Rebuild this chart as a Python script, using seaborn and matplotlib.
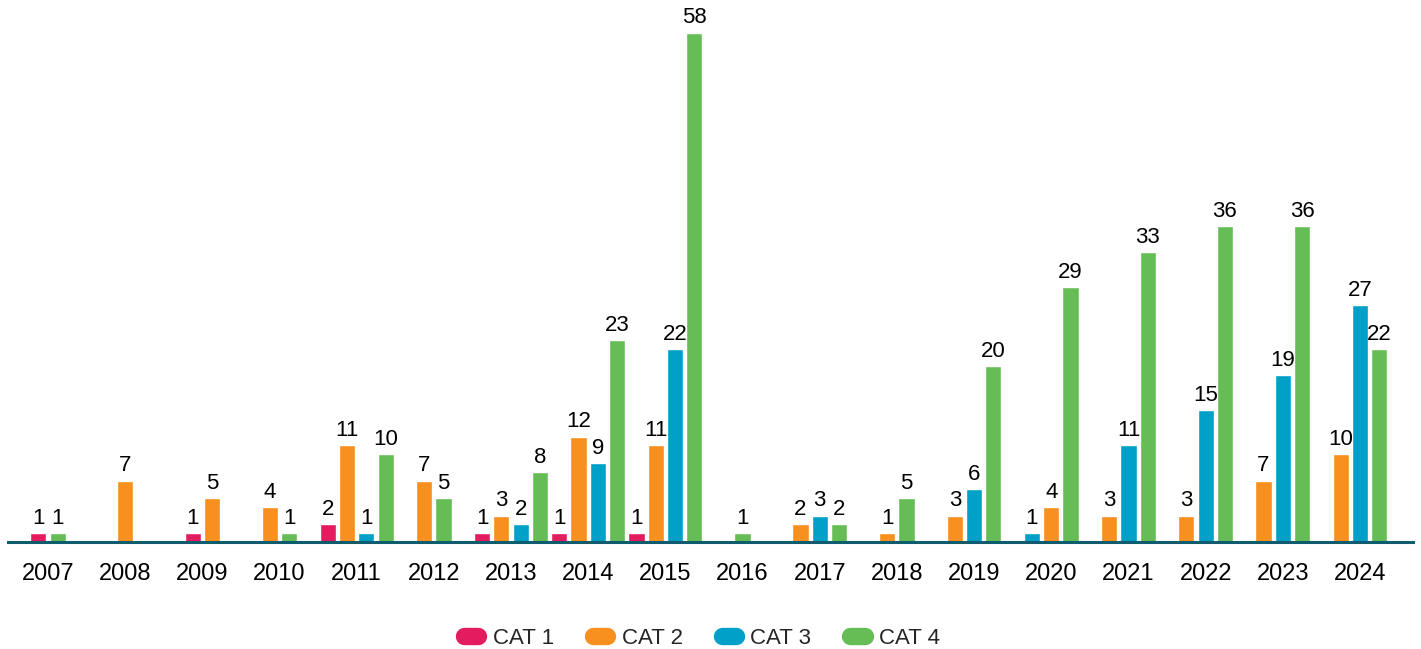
import numpy as np
import pandas as pd
import matplotlib
matplotlib.use("Agg")
import matplotlib.pyplot as plt
import seaborn as sns
from matplotlib.lines import Line2D

# ---- data ----
years = [str(y) for y in range(2007, 2025)]
categories = ["CAT 1", "CAT 2", "CAT 3", "CAT 4"]
cat1 = [1, 0, 1, 0, 2, 0, 1, 1, 1, 0, 0, 0, 0, 0, 0, 0, 0, 0]
cat2 = [0, 7, 5, 4, 11, 7, 3, 12, 11, 0, 2, 1, 3, 4, 3, 3, 7, 10]
cat3 = [0, 0, 0, 0, 1, 0, 2, 9, 22, 0, 3, 0, 6, 1, 11, 15, 19, 27]
cat4 = [1, 0, 0, 1, 10, 5, 8, 23, 58, 1, 2, 5, 20, 29, 33, 36, 36, 22]
colors = ["#E31B5F", "#F7901E", "#00A0C8", "#66BC55"]

# bar order within a year as drawn in the original (default: category order)
order_override = {"2020": ["CAT 3", "CAT 2", "CAT 4"]}

series = dict(zip(categories, [cat1, cat2, cat3, cat4]))

# pack non-zero bars of each year around the year's centre
pitch = 0.25
rows = []
for i, yr in enumerate(years):
    order = order_override.get(yr, categories)
    present = [(c, series[c][i]) for c in order if series[c][i] > 0]
    n = len(present)
    for k, (c, v) in enumerate(present):
        rows.append({"pos": i + (k - (n - 1) / 2) * pitch, "value": v, "cat": c, "year": yr})
df = pd.DataFrame(rows)

sns.set_style("white")
plt.rcParams["font.family"] = ["Liberation Sans", "DejaVu Sans"]

W, H = 1421, 649
fig = plt.figure(figsize=(W / 100, H / 100), dpi=100)
ax = fig.add_axes([8 / W, 1 - 542 / H, (1413 - 8) / W, 542 / H])

sns.barplot(data=df, x="pos", y="value", hue="cat", hue_order=categories,
            palette=colors, native_scale=True, dodge=False, width=0.84,
            errorbar=None, legend=False, ax=ax, saturation=1)

for cont in ax.containers:
    ax.bar_label(cont, fmt="%d", padding=3, fontsize=16, color="#000000")

ax.set_ylim(0, 61.7)
ax.set_xlim(-0.518, 17.687)
ax.set_xticks(range(len(years)))
ax.set_xticklabels(years, fontsize=17, color="#000000")
ax.tick_params(axis="x", length=0, pad=15)
ax.set_yticks([])
ax.set_xlabel("")
ax.set_ylabel("")
for s in ["top", "left", "right"]:
    ax.spines[s].set_visible(False)
ax.spines["bottom"].set_color("#0F5C6E")
ax.spines["bottom"].set_linewidth(2.2)
ax.patch.set_alpha(0)

handles = [Line2D([0], [0], color=c, lw=12.5, solid_capstyle="round") for c in colors]
fig.legend(handles, categories, loc="center", bbox_to_anchor=(702 / W, 1 - 638 / H),
           ncol=4, frameon=False, fontsize=16, handlelength=0.65,
           handletextpad=0.65, columnspacing=1.75)

fig.savefig("out.png", dpi=100)
